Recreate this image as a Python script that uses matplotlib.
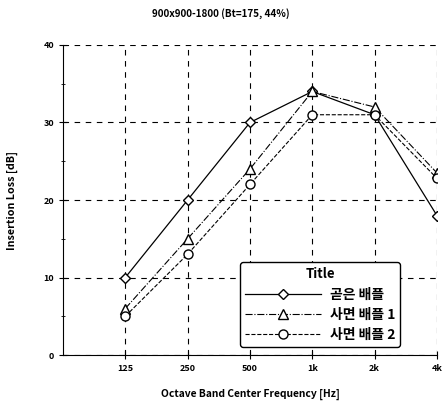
import matplotlib.pyplot as plt
from matplotlib.ticker import MultipleLocator

plt.rcParams['font.family'] = ['Noto Sans CJK KR', 'DejaVu Sans']

freqs = ['125', '250', '500', '1k', '2k', '4k']
straight = [10, 20, 30, 34, 31, 18]
slope1 = [6, 15, 24, 34, 32, 23.5]
slope2 = [5, 13, 22, 31, 31, 22.8]
labels = ['곧은 배플', '사면 배플 1', '사면 배플 2']

x = list(range(len(freqs)))

fig = plt.figure(figsize=(4.42, 4.09), dpi=100)
ax = fig.add_axes([0.1425, 0.132, 0.846, 0.758])

ax.plot(x, straight, color='black', lw=0.9, ls='-', marker='D', ms=5.5,
        mfc='white', mec='black', mew=1.0, label=labels[0])
ax.plot(x, slope1, color='black', lw=0.8, ls='-.', marker='^', ms=6.5,
        mfc='white', mec='black', mew=1.0, label=labels[1])
ax.plot(x, slope2, color='black', lw=0.8, ls='--', marker='o', ms=6.5,
        mfc='white', mec='black', mew=1.0, label=labels[2])

ax.set_xlim(-1, 5)
ax.set_ylim(0, 40)
ax.set_xticks(x)
ax.set_xticklabels(freqs)
ax.yaxis.set_major_locator(MultipleLocator(10))
ax.yaxis.set_minor_locator(MultipleLocator(5))
ax.tick_params(axis='both', labelsize=6.5, direction='inout', length=6, width=0.8)
ax.tick_params(axis='y', which='minor', direction='inout', length=3)
for lab in ax.get_xticklabels() + ax.get_yticklabels():
    lab.set_fontweight('bold')

ax.grid(True, which='major', color='black', ls=(0, (5, 5)), lw=0.8)
ax.spines['top'].set_visible(False)
ax.spines['right'].set_visible(False)

ax.set_xlabel('Octave Band Center Frequency [Hz]', fontsize=7.4,
              fontweight='bold', labelpad=11)
ax.set_ylabel('Insertion Loss [dB]', fontsize=7.7, fontweight='bold', labelpad=18)
fig.text(0.5, 0.965, '900x900-1800 (Bt=175, 44%)', ha='center', va='center',
         fontsize=7.1, fontweight='bold')

leg = ax.legend(title='Title', loc='lower right', bbox_to_anchor=(0.901, 0.026),
                borderaxespad=0, fontsize=10, title_fontsize=9.5,
                handlelength=5.5, handletextpad=0.6, frameon=True,
                fancybox=True, edgecolor='black', framealpha=1,
                borderpad=0.35, labelspacing=0.45)
leg.get_frame().set_linewidth(1.0)
leg.get_title().set_fontweight('bold')
for t in leg.get_texts():
    t.set_fontweight('bold')

fig.savefig('out.png', dpi=100)
